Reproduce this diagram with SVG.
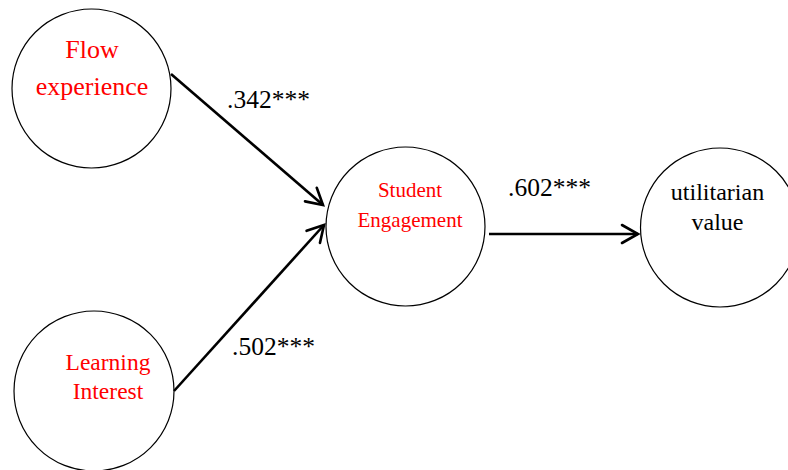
<svg xmlns="http://www.w3.org/2000/svg" width="788" height="470" viewBox="0 0 788 470">
<style>
.node{fill:#fff;stroke:#000;stroke-width:1.2}
.red{fill:#ff0000;font-family:"Liberation Serif","Times New Roman",serif;text-anchor:middle}
.blk{fill:#000;font-family:"Liberation Serif","Times New Roman",serif;text-anchor:middle}
.lbl{fill:#000;font-family:"Liberation Serif","Times New Roman",serif;font-size:25.5px}
.edge{fill:none;stroke:#000;stroke-width:2.6}
</style>
<defs>
<marker id="arr" markerUnits="userSpaceOnUse" viewBox="0 0 22 22" refX="19" refY="11" markerWidth="22" markerHeight="22" orient="auto">
<path d="M3,2 L19,11 L3,20" fill="none" stroke="#000" stroke-width="2.6" stroke-linecap="round" stroke-linejoin="miter"/>
</marker>
</defs>
<rect width="788" height="470" fill="#fff"/>
<g id="flow">
<circle class="node" cx="91.5" cy="88.5" r="79.5"/>
<text class="red" x="92" y="58" font-size="26">Flow</text>
<text class="red" x="92" y="95" font-size="26">experience</text>
</g>
<g id="learning">
<circle class="node" cx="94" cy="391" r="80"/>
<text class="red" x="108" y="370" font-size="23.5">Learning</text>
<text class="red" x="108" y="399" font-size="23.5">Interest</text>
</g>
<g id="engagement">
<circle class="node" cx="405.5" cy="226.5" r="79.5"/>
<text class="red" x="410" y="197" font-size="21">Student</text>
<text class="red" x="410" y="227" font-size="21">Engagement</text>
</g>
<g id="utilitarian">
<circle class="node" cx="720" cy="227.5" r="79.5"/>
<text class="blk" x="717.5" y="200" font-size="24">utilitarian</text>
<text class="blk" x="717.5" y="230" font-size="24">value</text>
</g>
<g id="connectors">
<line class="edge" x1="171" y1="74" x2="323" y2="205" marker-end="url(#arr)"/>
<line class="edge" x1="174" y1="391" x2="324" y2="225" marker-end="url(#arr)"/>
<line class="edge" x1="489" y1="234" x2="638" y2="234" marker-end="url(#arr)"/>
<text class="lbl" x="227" y="108">.342***</text>
<text class="lbl" x="232" y="355">.502***</text>
<text class="lbl" x="508" y="196">.602***</text>
</g>
</svg>
